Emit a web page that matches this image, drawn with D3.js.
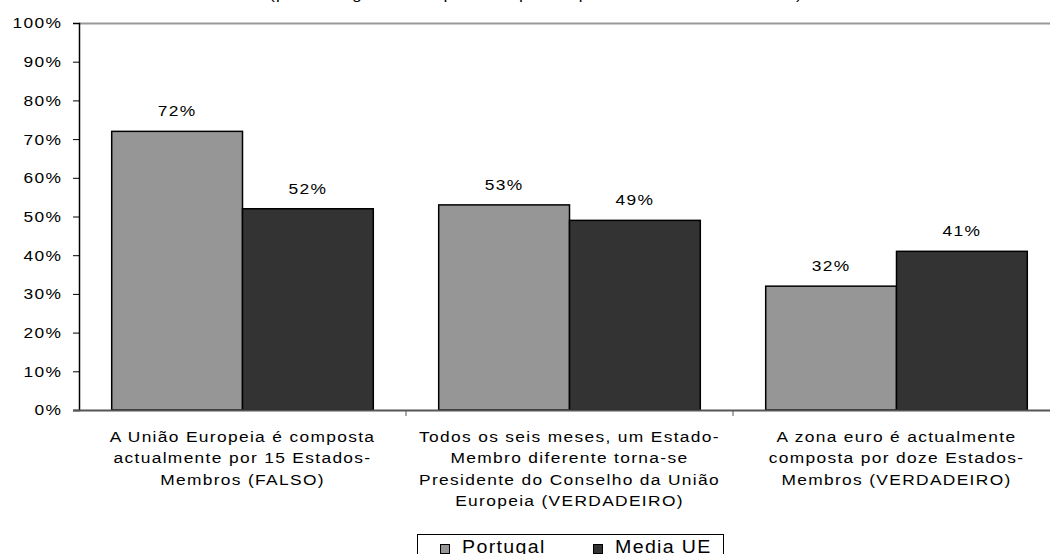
<!DOCTYPE html>
<html>
<head>
<meta charset="utf-8">
<script src="https://d3js.org/d3.v7.min.js"></script>
<style>
  body { margin: 0; background: #fff; }
  svg { font-family: "Liberation Sans", Arial, sans-serif; }
</style>
</head>
<body>
<svg id="chart" width="1050" height="554"></svg>
<script>
// data
var categories = [
  ["A União Europeia é composta", "actualmente por 15 Estados-", "Membros (FALSO)"],
  ["Todos os seis meses, um Estado-", "Membro diferente torna-se", "Presidente do Conselho da União", "Europeia (VERDADEIRO)"],
  ["A zona euro é actualmente", "composta por doze Estados-", "Membros (VERDADEIRO)"]
];
var seriesNames = ["Portugal", "Media UE"];
var portugal = [72, 53, 32];
var mediaUE = [52, 49, 41];
var yTicks = [0, 10, 20, 30, 40, 50, 60, 70, 80, 90, 100];
var subtitle = "(percentagem de inquiridos que responderam correctamente)";

var colors = ["#969696", "#333333"];
var stretch = 1.12;   // the original text is drawn a little wide
var spacing = 1.2;
var svg = d3.select("#chart");

var plotLeft = 79, plotRight = 1060, plotTop = 23, plotBottom = 410;

var x0 = d3.scaleBand().domain(d3.range(categories.length)).range([plotLeft, plotRight]);
var x1 = d3.scaleBand().domain(seriesNames).range([0, x0.bandwidth()]).paddingOuter(0.25);
var y = d3.scaleLinear().domain([0, 100]).range([plotBottom, plotTop]);

// place a text, widened around its anchor
function wideText(parent, x, yy, size, anchor) {
  return parent.append("text")
    .attr("transform", "translate(" + x + "," + yy + ") scale(" + stretch + ",1)")
    .attr("text-anchor", anchor || "middle")
    .attr("font-size", size)
    .attr("letter-spacing", spacing)
    .attr("fill", "#000");
}

// cut-off subtitle at top
wideText(svg, 536, -1, 15).text(subtitle);

// top border of plot area
svg.append("line")
  .attr("x1", plotLeft).attr("x2", 1050)
  .attr("y1", plotTop + 0.5).attr("y2", plotTop + 0.5)
  .attr("stroke", "#999").attr("stroke-width", 2);

// bars
var rows = categories.map(function(c, i) {
  return [{s: 0, v: portugal[i]}, {s: 1, v: mediaUE[i]}];
});
var groups = svg.selectAll("g.grp").data(rows).enter().append("g")
  .attr("class", "grp")
  .attr("transform", function(d, i) { return "translate(" + x0(i) + ",0)"; });

groups.selectAll("rect").data(function(d) { return d; }).enter().append("rect")
  .attr("x", function(d) { return x1(seriesNames[d.s]); })
  .attr("y", function(d) { return y(d.v); })
  .attr("width", x1.bandwidth())
  .attr("height", function(d) { return y(0) - y(d.v); })
  .attr("fill", function(d) { return colors[d.s]; })
  .attr("stroke", "#000").attr("stroke-width", 1.5);

groups.each(function(d) {
  var g = d3.select(this);
  d.forEach(function(b) {
    wideText(g, x1(seriesNames[b.s]) + x1.bandwidth() / 2, y(b.v) - 15, 15.5)
      .text(b.v + "%");
  });
});

// y axis
var yAxis = svg.append("g")
  .attr("transform", "translate(" + plotLeft + ",0)")
  .call(d3.axisLeft(y).tickValues(yTicks).tickSize(6).tickPadding(9)
    .tickFormat(function(d) { return d + "%"; }));
yAxis.select(".domain").attr("stroke", "#000").attr("stroke-width", 1.5);
yAxis.selectAll(".tick line").attr("stroke", "#000");
yAxis.selectAll(".tick text")
  .attr("font-size", 15.5)
  .attr("font-family", "Liberation Sans, Arial, sans-serif")
  .attr("letter-spacing", spacing)
  .attr("fill", "#000")
  .attr("transform", "scale(" + stretch + ",1)");

// x axis
var xAxis = svg.append("g")
  .attr("transform", "translate(0," + plotBottom + ")");
xAxis.append("line")
  .attr("x1", plotLeft - 6).attr("x2", 1050)
  .attr("y1", 0.5).attr("y2", 0.5)
  .attr("stroke", "#555").attr("stroke-width", 2);
xAxis.selectAll("line.tk").data(d3.range(1, categories.length)).enter().append("line")
  .attr("class", "tk")
  .attr("x1", function(i) { return x0(i); }).attr("x2", function(i) { return x0(i); })
  .attr("y1", 0).attr("y2", 6)
  .attr("stroke", "#555");

categories.forEach(function(lines, i) {
  var t = wideText(xAxis, x0(i) + x0.bandwidth() / 2, 0, 15.5);
  t.selectAll("tspan").data(lines).enter().append("tspan")
    .attr("x", 0)
    .attr("y", function(l, j) { return 32 + j * 21.5; })
    .text(function(l) { return l; });
});

// legend
var legend = svg.append("g").attr("transform", "translate(417,534)");
legend.append("rect")
  .attr("x", 0.5).attr("y", 0.5).attr("width", 306).attr("height", 30)
  .attr("fill", "#fff").attr("stroke", "#000");
var legX = [23, 176];
seriesNames.forEach(function(name, i) {
  legend.append("rect")
    .attr("x", legX[i] + 0.5).attr("y", 10.5).attr("width", 9).attr("height", 9)
    .attr("fill", colors[i]).attr("stroke", "#000");
  wideText(legend, legX[i] + 22, 19, 17.5, "start").text(name);
});
</script>
</body>
</html>
